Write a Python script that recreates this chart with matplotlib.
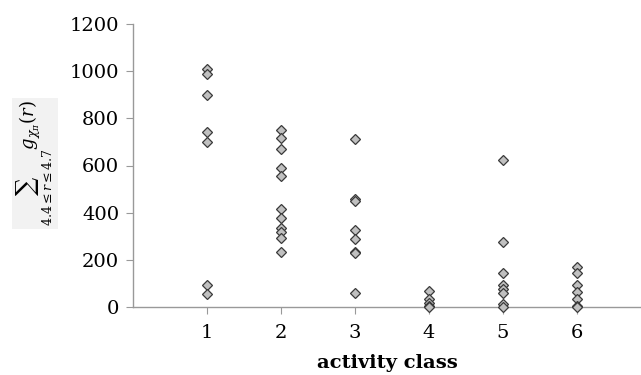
import matplotlib
matplotlib.use("Agg")
import matplotlib.pyplot as plt

# values, one list per activity class
class1 = [1010, 990, 900, 740, 700, 95, 55]
class2 = [750, 715, 670, 588, 557, 414, 376, 336, 317, 293, 235]
class3 = [711, 457, 450, 327, 287, 235, 228, 61]
class4 = [68, 33, 16, 5, 1]
class5 = [623, 277, 144, 93, 75, 61, 13, 1]
class6 = [168, 146, 93, 62, 33, 6, 0]
classes = [class1, class2, class3, class4, class5, class6]
xticks = [1, 2, 3, 4, 5, 6]
yticks = [0, 200, 400, 600, 800, 1000, 1200]

plt.rcParams['font.family'] = ['DejaVu Serif']
plt.rcParams['mathtext.fontset'] = 'dejavuserif'

fig = plt.figure(figsize=(6.41, 3.75), dpi=100)
ax = fig.add_axes([133 / 641, 68 / 375, 1 - 133 / 641, 283 / 375])

for k, vals in zip(xticks, classes):
    ax.plot([k] * len(vals), vals, linestyle='none', marker='D', ms=5.2,
            mfc='#c0c0c0', mec='#3a3a3a', mew=0.9, clip_on=False, zorder=3)

ax.set_xlim(0, 6.87)
ax.set_ylim(0, 1200)
ax.set_xticks(xticks)
ax.set_yticks(yticks)
ax.tick_params(axis='both', labelsize=14, colors='#999999', labelcolor='black',
               length=5, width=0.8, direction='out')
ax.tick_params(axis='y', pad=5)
ax.tick_params(axis='x', pad=7)
for side in ['top', 'right']:
    ax.spines[side].set_visible(False)
for side in ['left', 'bottom']:
    ax.spines[side].set_color('#999999')
    ax.spines[side].set_linewidth(1.0)

ax.set_xlabel('activity class', fontsize=14, fontweight='bold', labelpad=9)
fig.text(0.055, 0.565, r'$\sum_{4.4\leq r\leq 4.7} g_{\chi_\pi}(r)$', rotation=90,
         fontsize=13, ha='center', va='center',
         bbox=dict(facecolor='#f2f2f2', edgecolor='none', pad=2))

fig.savefig('out.png', dpi=100)
